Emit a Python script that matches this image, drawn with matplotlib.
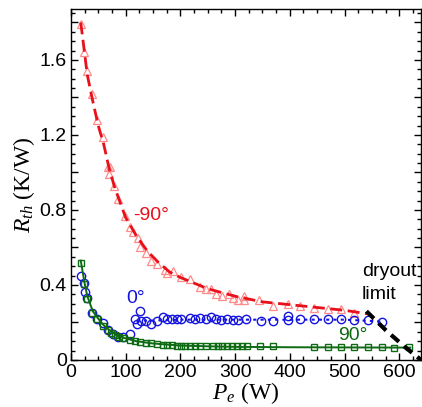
import matplotlib
matplotlib.use("Agg")
import matplotlib.pyplot as plt
from matplotlib.ticker import MultipleLocator, FuncFormatter

plt.rcParams['font.family'] = ['Liberation Sans', 'DejaVu Sans']
plt.rcParams['mathtext.fontset'] = 'custom'
plt.rcParams['mathtext.rm'] = 'Liberation Serif'
plt.rcParams['mathtext.it'] = 'Liberation Serif:italic'

# -90 deg orientation (triangles) and its fit
p_m90 = [18, 24, 29, 39, 48, 59, 68, 70, 71, 79, 86, 98, 108, 114, 123, 126, 138, 147,
         157, 172, 175, 186, 202, 217, 236, 247, 256, 265, 277, 289, 296, 305, 317, 317,
         344, 369, 396, 419, 445, 469, 494, 518]
r_m90 = [1.79, 1.64, 1.54, 1.42, 1.28, 1.19, 1.03, 0.99, 1.03, 0.93, 0.86, 0.77, 0.71, 0.68,
         0.65, 0.60, 0.57, 0.53, 0.51, 0.48, 0.465, 0.475, 0.44, 0.43, 0.39, 0.38, 0.38, 0.35,
         0.34, 0.35, 0.33, 0.32, 0.34, 0.32, 0.32, 0.29, 0.30, 0.29, 0.275, 0.27, 0.27, 0.25]
fit_m90_x = [18, 30, 40, 50, 60, 70, 80, 90, 100, 120, 140, 160, 180, 200, 250, 300, 350,
             400, 450, 500, 545]
fit_m90_y = [1.80, 1.52, 1.38, 1.25, 1.15, 1.02, 0.92, 0.84, 0.76, 0.66, 0.58, 0.52, 0.47,
             0.44, 0.38, 0.34, 0.31, 0.295, 0.28, 0.265, 0.245]

# 0 deg orientation (circles)
p_0 = [19, 24, 26, 30, 39, 48, 59, 68, 77, 86, 96, 108, 117, 120, 126, 128, 138, 147, 157,
       168, 175, 184, 193, 202, 217, 226, 236, 247, 256, 265, 274, 286, 296, 305, 320, 347,
       369, 396, 396, 419, 445, 469, 494, 518, 543, 568]
r_0 = [0.45, 0.41, 0.36, 0.33, 0.25, 0.22, 0.195, 0.16, 0.14, 0.125, 0.125, 0.14, 0.22, 0.19,
       0.26, 0.21, 0.21, 0.19, 0.21, 0.23, 0.22, 0.22, 0.22, 0.22, 0.225, 0.22, 0.225, 0.22,
       0.23, 0.22, 0.215, 0.22, 0.215, 0.215, 0.22, 0.21, 0.21, 0.235, 0.215, 0.22, 0.22,
       0.22, 0.22, 0.215, 0.215, 0.20]
fit_0_x = [120, 150, 200, 300, 400, 500, 570]
fit_0_y = [0.21, 0.21, 0.215, 0.215, 0.215, 0.215, 0.205]

# 90 deg orientation (squares) and its fit
p_90 = [18, 24, 29, 39, 48, 58, 68, 74, 80, 87, 96, 108, 117, 126, 138, 147, 157, 168, 175,
        184, 193, 202, 208, 217, 226, 236, 247, 259, 268, 276, 285, 294, 303, 312, 321, 346,
        369, 445, 469, 494, 518, 543, 568, 591, 617]
r_90 = [0.515, 0.405, 0.325, 0.25, 0.22, 0.18, 0.16, 0.145, 0.135, 0.125, 0.115, 0.107, 0.10,
        0.095, 0.09, 0.088, 0.085, 0.08, 0.078, 0.078, 0.077, 0.076, 0.075, 0.075, 0.075,
        0.075, 0.075, 0.075, 0.075, 0.075, 0.075, 0.075, 0.075, 0.075, 0.075, 0.075, 0.075,
        0.068, 0.068, 0.068, 0.068, 0.068, 0.068, 0.066, 0.07]
fit_90_x = [18, 25, 30, 40, 50, 60, 70, 80, 90, 100, 120, 150, 200, 250, 300, 400, 500, 620]
fit_90_y = [0.53, 0.41, 0.34, 0.26, 0.22, 0.185, 0.16, 0.14, 0.125, 0.115, 0.10, 0.088,
            0.077, 0.073, 0.07, 0.068, 0.067, 0.066]

# dryout limit
dry_x = [540, 575, 610, 640]
dry_y = [0.26, 0.16, 0.07, 0.0]

fig = plt.figure(figsize=(4.22, 4.07), dpi=100)
ax = fig.add_axes([0.168, 0.1155, 0.83, 0.8625])

red = '#e8101a'
blue = '#1414e0'
green = '#0f6a14'

ax.plot(p_m90, r_m90, linestyle='none', marker='^', ms=5.5, mfc='none',
        mec='#ff8a8a', mew=0.9)
ax.plot(fit_m90_x, fit_m90_y, color=red, lw=2, dashes=(4.3, 2))
ax.plot(p_0, r_0, linestyle='none', marker='o', ms=6, mfc='none', mec=blue, mew=1.0)
ax.plot(fit_0_x, fit_0_y, color=blue, lw=1.5, dashes=(1.5, 2))
ax.plot(p_90, r_90, linestyle='none', marker='s', ms=5, mfc='none', mec=green, mew=1.0)
ax.plot(fit_90_x, fit_90_y, color=green, lw=1.4)
ax.plot(dry_x, dry_y, color='black', lw=3, dashes=(2.5, 1.6))

ax.text(113, 0.77, '-90\u00b0', color=red, fontsize=14, va='center', ha='left')
ax.text(102, 0.33, '0\u00b0', color=blue, fontsize=14, va='center', ha='left')
ax.text(488, 0.13, '90\u00b0', color=green, fontsize=14, va='center', ha='left')
ax.text(532, 0.47, 'dryout', color='black', fontsize=14, va='center', ha='left')
ax.text(532, 0.35, 'limit', color='black', fontsize=14, va='center', ha='left')

ax.set_xlim(0, 640)
ax.set_ylim(0, 1.872)
ax.xaxis.set_major_locator(MultipleLocator(100))
ax.xaxis.set_minor_locator(MultipleLocator(25))
ax.yaxis.set_major_locator(MultipleLocator(0.2))
ax.yaxis.set_minor_locator(MultipleLocator(0.05))


def ylab(v, pos):
    if abs(v / 0.4 - round(v / 0.4)) > 1e-6:
        return ''
    if abs(v) < 1e-9:
        return '0'
    return f'{v:.1f}'


ax.yaxis.set_major_formatter(FuncFormatter(ylab))
ax.tick_params(which='both', direction='in', top=True, right=True, labelsize=14,
               width=1, pad=3)
ax.tick_params(which='major', length=5)
ax.tick_params(which='minor', length=3)
for s in ax.spines.values():
    s.set_linewidth(1)

ax.set_xlabel(r'$P_e$ (W)', fontsize=17, family='Liberation Serif', labelpad=-1)
ax.set_ylabel(r'$R_{th}$ (K/W)', fontsize=17, family='Liberation Serif', labelpad=2)

fig.savefig('out.png', dpi=100)
